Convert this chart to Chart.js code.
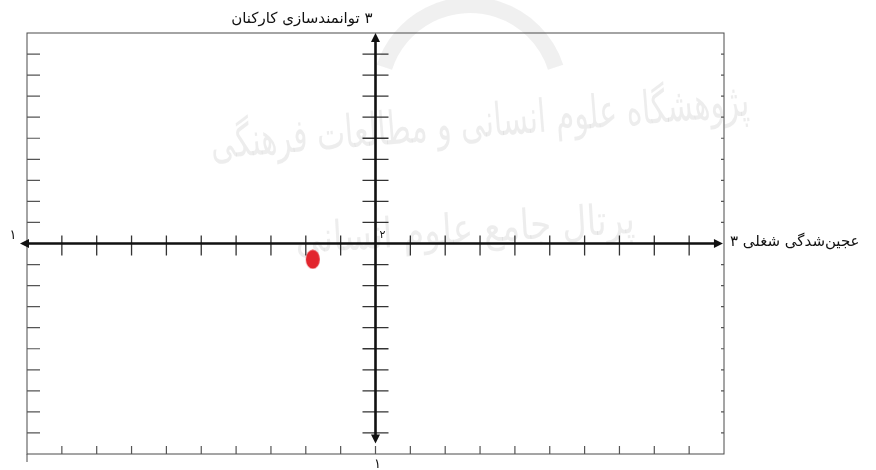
<!DOCTYPE html>
<html lang="fa">
<head>
<meta charset="utf-8">
<script src="https://cdn.jsdelivr.net/npm/chart.js@4.4.0/dist/chart.umd.min.js"></script>
<style>
  html, body { margin: 0; padding: 0; background: #fff; }
  #wrap { width: 876px; height: 470px; }
</style>
</head>
<body>
<div id="wrap"><canvas id="matrix" width="876" height="470"></canvas></div>
<script>
// Values
const xTicks = [-10, -9, -8, -7, -6, -5, -4, -3, -2, -1, 0, 1, 2, 3, 4, 5, 6, 7, 8, 9, 10];
const yTicks = [-10, -9, -8, -7, -6, -5, -4, -3, -2, -1, 0, 1, 2, 3, 4, 5, 6, 7, 8, 9, 10];
const pointX = [-1.8];
const pointY = [-0.75];

// Texts
const titleX = 'عجین‌شدگی شغلی ۳';
const titleY = '۳ توانمندسازی کارکنان';
const labelLeft = '۱';
const labelBottom = '۱';
const labelOrigin = '۲';
const watermark1 = 'پژوهشگاه علوم انسانی و مطالعات فرهنگی';
const watermark2 = 'پرتال جامع علوم انسانی';

const FONT = '"DejaVu Sans", sans-serif';

// Red ellipse used as the point marker
function makeDot() {
    const c = document.createElement('canvas');
    c.width = 16;
    c.height = 20;
    const g = c.getContext('2d');
    g.fillStyle = '#e2252d';
    g.beginPath();
    g.ellipse(8, 10, 7, 9.5, 0, 0, Math.PI * 2);
    g.fill();
    return c;
}

function arrow(ctx, x, y, dir) {
    // dir: 'up', 'down', 'left', 'right'; (x, y) is the tip
    const len = 9, half = 4.5;
    ctx.beginPath();
    ctx.moveTo(x, y);
    if (dir === 'up') { ctx.lineTo(x - half, y + len); ctx.lineTo(x + half, y + len); }
    if (dir === 'down') { ctx.lineTo(x - half, y - len); ctx.lineTo(x + half, y - len); }
    if (dir === 'left') { ctx.lineTo(x + len, y - half); ctx.lineTo(x + len, y + half); }
    if (dir === 'right') { ctx.lineTo(x - len, y - half); ctx.lineTo(x - len, y + half); }
    ctx.closePath();
    ctx.fill();
}

// Faint watermark behind the chart
const watermarkPlugin = {
    id: 'watermark',
    beforeDraw(chart) {
        const ctx = chart.ctx;
        ctx.save();
        ctx.strokeStyle = 'rgba(160,160,160,0.16)';
        ctx.lineWidth = 16;
        ctx.beginPath();
        ctx.arc(470, 95, 90, Math.PI * 1.1, Math.PI * 1.9);
        ctx.stroke();

        ctx.fillStyle = 'rgba(150,150,150,0.17)';
        ctx.direction = 'rtl';
        ctx.textAlign = 'center';
        ctx.textBaseline = 'middle';
        ctx.translate(480, 125);
        ctx.rotate(-0.08);
        ctx.font = '46px ' + FONT;
        ctx.fillText(watermark1, 0, 0, 540);
        ctx.restore();

        ctx.save();
        ctx.fillStyle = 'rgba(150,150,150,0.17)';
        ctx.direction = 'rtl';
        ctx.textAlign = 'center';
        ctx.textBaseline = 'middle';
        ctx.translate(465, 232);
        ctx.rotate(-0.06);
        ctx.font = '42px ' + FONT;
        ctx.fillText(watermark2, 0, 0, 340);
        ctx.restore();
    }
};

// Frame, centre axes, ticks and labels
const axesPlugin = {
    id: 'quadrantAxes',
    beforeDatasetsDraw(chart) {
        const ctx = chart.ctx;
        const xs = chart.scales.x;
        const ys = chart.scales.y;
        const left = xs.getPixelForValue(-10);
        const right = xs.getPixelForValue(10);
        const top = ys.getPixelForValue(10);
        const bottom = ys.getPixelForValue(-10);
        const x0 = xs.getPixelForValue(0);
        const y0 = ys.getPixelForValue(0);

        ctx.save();
        // outer frame
        ctx.strokeStyle = '#4a4a4a';
        ctx.lineWidth = 1;
        ctx.strokeRect(left, top, right - left, bottom - top);
        ctx.beginPath();
        ctx.moveTo(left, bottom);
        ctx.lineTo(left, bottom + 8);
        ctx.stroke();

        // frame ticks
        ctx.strokeStyle = '#555';
        ctx.lineWidth = 1.2;
        ctx.beginPath();
        yTicks.forEach(v => {
            if (v === 0 || v === 10 || v === -10) return;
            const py = ys.getPixelForValue(v);
            ctx.moveTo(left, py);
            ctx.lineTo(left + 13, py);
            ctx.moveTo(right, py);
            ctx.lineTo(right - 3, py);
        });
        xTicks.forEach(v => {
            if (v === 10 || v === -10) return;
            const px = xs.getPixelForValue(v);
            ctx.moveTo(px, bottom);
            ctx.lineTo(px, bottom - 8);
        });
        ctx.stroke();

        // ticks across centre axes
        ctx.strokeStyle = '#333';
        ctx.lineWidth = 1.3;
        ctx.beginPath();
        yTicks.forEach(v => {
            if (v === 0 || v === 10 || v === -10) return;
            const py = ys.getPixelForValue(v);
            ctx.moveTo(x0 - 13, py);
            ctx.lineTo(x0 + 13, py);
        });
        xTicks.forEach(v => {
            if (v === 0 || v === 10 || v === -10) return;
            const px = xs.getPixelForValue(v);
            ctx.moveTo(px, y0 - 8);
            ctx.lineTo(px, y0 + 12);
        });
        ctx.stroke();

        // centre axes with arrow heads
        const leftTip = xs.getPixelForValue(-10.2);
        const rightTip = xs.getPixelForValue(9.97);
        const topTip = ys.getPixelForValue(10);
        const bottomTip = ys.getPixelForValue(-9.5);
        ctx.strokeStyle = '#111';
        ctx.fillStyle = '#111';
        ctx.lineWidth = 2.6;
        ctx.beginPath();
        ctx.moveTo(leftTip + 6, y0);
        ctx.lineTo(rightTip - 6, y0);
        ctx.moveTo(x0, topTip + 6);
        ctx.lineTo(x0, bottomTip - 6);
        ctx.stroke();
        arrow(ctx, leftTip, y0, 'left');
        arrow(ctx, rightTip, y0, 'right');
        arrow(ctx, x0, topTip, 'up');
        arrow(ctx, x0, bottomTip, 'down');

        // labels
        ctx.fillStyle = '#111';
        ctx.textBaseline = 'middle';
        ctx.direction = 'rtl';
        ctx.font = '15px ' + FONT;
        ctx.textAlign = 'right';
        ctx.fillText(titleY, x0 - 3, top - 14);
        ctx.textAlign = 'left';
        ctx.fillText(titleX, right + 6, y0 - 1);

        ctx.font = '13px ' + FONT;
        ctx.textAlign = 'center';
        ctx.fillText(labelLeft, left - 14, y0 - 8);
        ctx.fillText(labelBottom, x0 + 2, bottom + 11);
        ctx.font = '11px ' + FONT;
        ctx.fillText(labelOrigin, x0 + 7, y0 - 8);
        ctx.restore();
    }
};

new Chart(document.getElementById('matrix'), {
    type: 'scatter',
    data: {
        datasets: [{
            data: pointX.map((x, i) => ({ x: x, y: pointY[i] })),
            pointStyle: makeDot(),
            pointRadius: 9,
            pointHoverRadius: 9
        }]
    },
    options: {
        responsive: false,
        animation: false,
        devicePixelRatio: 1,
        layout: { padding: { left: 27, right: 152, top: 33, bottom: 16 } },
        plugins: {
            legend: { display: false },
            tooltip: { enabled: false }
        },
        scales: {
            x: { type: 'linear', min: -10, max: 10, display: false },
            y: { type: 'linear', min: -10, max: 10, display: false }
        }
    },
    plugins: [watermarkPlugin, axesPlugin]
});
</script>
</body>
</html>
